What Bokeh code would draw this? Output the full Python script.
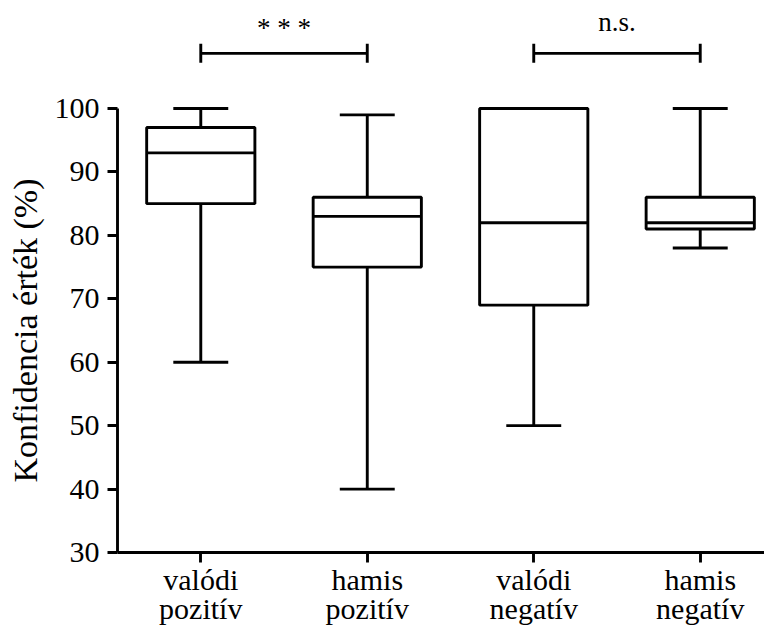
from bokeh.plotting import figure
from bokeh.models import ColumnDataSource, FixedTicker
from bokeh.core.properties import value
from bokeh.embed import file_html
from bokeh.resources import INLINE

# ---- data ----
categories = ["valódi\npozitív", "hamis\npozitív", "valódi\nnegatív", "hamis\nnegatív"]
whisker_low = [60, 40, 50, 78]
q1 = [85, 75, 69, 81]
median = [93, 83, 82, 82]
q3 = [97, 86, 100, 86]
whisker_high = [100, 99, 100, 100]
y_ticks = [30, 40, 50, 60, 70, 80, 90, 100]
sig_pairs = [(1, 2), (3, 4)]
sig_labels = ["* * *", "n.s."]
sig_level = 108.7

FONT = "Liberation Serif"
xs = list(range(1, len(categories) + 1))
box_w = 0.65
cap_w = 0.33
X0, X1 = -0.203, 4.386
Y0, Y1 = 18.02, 117.03

p = figure(width=764, height=628, output_backend="svg", toolbar_location=None,
           x_range=(X0, X1), y_range=(Y0, Y1),
           min_border_left=0, min_border_right=0, min_border_top=0, min_border_bottom=0)
p.outline_line_color = None
p.xgrid.visible = False
p.ygrid.visible = False

src = ColumnDataSource(dict(x=xs, lo=whisker_low, q1=q1, med=median, q3=q3, hi=whisker_high,
                            xl=[x - box_w / 2 for x in xs], xr=[x + box_w / 2 for x in xs],
                            cl=[x - cap_w / 2 for x in xs], cr=[x + cap_w / 2 for x in xs]))

LW = 2.9
# whiskers
p.segment(x0="x", y0="q3", x1="x", y1="hi", source=src, line_color="black", line_width=LW)
p.segment(x0="x", y0="lo", x1="x", y1="q1", source=src, line_color="black", line_width=LW)
p.segment(x0="cl", y0="hi", x1="cr", y1="hi", source=src, line_color="black", line_width=LW)
p.segment(x0="cl", y0="lo", x1="cr", y1="lo", source=src, line_color="black", line_width=LW)
# boxes
p.quad(left="xl", right="xr", bottom="q1", top="q3", source=src,
       fill_color="white", line_color="black", line_width=LW)
p.segment(x0="xl", y0="med", x1="xr", y1="med", source=src, line_color="black", line_width=LW)

# significance brackets
bx0 = [a for a, b in sig_pairs]
bx1 = [b for a, b in sig_pairs]
p.segment(x0=bx0, y0=[sig_level] * 2, x1=bx1, y1=[sig_level] * 2, line_color="black", line_width=LW)
p.segment(x0=bx0 + bx1, y0=[sig_level - 1.5] * 4, x1=bx0 + bx1, y1=[sig_level + 1.5] * 4,
          line_color="black", line_width=LW)
p.text(x=[(a + b) / 2 for a, b in sig_pairs], y=[112.7, 113.6], text=sig_labels,
       text_font=value(FONT), text_font_size="27px", text_align="center",
       text_baseline="middle", text_color="black")

# axes (drawn at fixed data locations inside the frame)
p.yaxis.fixed_location = 0.5
p.xaxis.fixed_location = 30
p.yaxis.bounds = (30, 100)
p.xaxis.bounds = (0.5, X1)
p.yaxis.ticker = FixedTicker(ticks=y_ticks)
p.yaxis.axis_label = "Konfidencia érték (%)"
p.xaxis.ticker = FixedTicker(ticks=xs)
p.xaxis.major_label_overrides = {x: c for x, c in zip(xs, categories)}

for ax in (p.xaxis, p.yaxis):
    ax.axis_line_width = 2.9
    ax.axis_line_color = "black"
    ax.major_tick_line_width = 2.9
    ax.major_tick_line_color = "black"
    ax.major_tick_out = 10
    ax.major_tick_in = 0
    ax.minor_tick_line_color = None
    ax.major_label_text_font = FONT
    ax.major_label_text_color = "black"
    ax.axis_label_text_font = FONT
    ax.axis_label_text_font_style = "normal"
    ax.axis_label_text_color = "black"

p.yaxis.major_label_text_font_size = "30px"
p.yaxis.axis_label_text_font_size = "34px"
p.yaxis.major_label_standoff = 8
p.yaxis.axis_label_standoff = 8
p.xaxis.major_label_text_font_size = "30px"
p.xaxis.major_label_standoff = 0
p.xaxis.major_label_text_line_height = 0.88

open("out.html", "w").write(file_html(p, INLINE))
